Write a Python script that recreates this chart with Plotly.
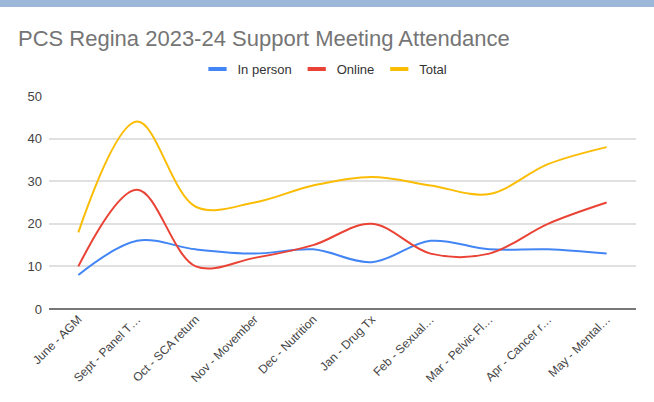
import plotly.graph_objects as go

categories = ["June - AGM", "Sept - Panel T…", "Oct - SCA return", "Nov - Movember",
              "Dec - Nutrition", "Jan - Drug Tx", "Feb - Sexual…", "Mar - Pelvic Fl…",
              "Apr - Cancer r…", "May - Mental…"]
in_person = [8, 16, 14, 13, 14, 11, 16, 14, 14, 13]
online = [10, 28, 10, 12, 15, 20, 13, 13, 20, 25]
total = [18, 44, 24, 25, 29, 31, 29, 27, 34, 38]
y_ticks = [0, 10, 20, 30, 40, 50]

W, H = 654, 402
L, R, T, B = 49, 18, 96, 93
pw, ph = W - L - R, H - T - B

def px(x):
    return (x - L) / pw

def py(y):
    return (H - B - y) / ph

fig = go.Figure()
series = [("In person", in_person, "#4285f4"),
          ("Online", online, "#ea4335"),
          ("Total", total, "#fbbc04")]
for name, vals, col in series:
    fig.add_trace(go.Scatter(
        x=categories, y=vals, name=name, mode="lines", showlegend=False,
        line=dict(color=col, width=2, shape="spline", smoothing=1.0),
    ))
for name, vals, col in series:
    fig.add_trace(go.Scatter(
        x=[None], y=[None], name=name, mode="markers", showlegend=True,
        marker=dict(symbol="line-ew", size=13, line=dict(color=col, width=4)),
    ))

fig.update_layout(
    width=W, height=H,
    margin=dict(l=L, r=R, t=T, b=B, autoexpand=False),
    paper_bgcolor="white", plot_bgcolor="white",
    font=dict(family="Liberation Sans, Arial, sans-serif", color="#444444", size=12),
    title=dict(text="PCS Regina 2023-24 Support Meeting Attendance",
               x=18 / W, xanchor="left", y=1 - 38 / H, yanchor="middle",
               font=dict(size=22, color="#757575")),
    legend=dict(orientation="h", x=px(325), xanchor="center", y=py(69), yanchor="middle",
                font=dict(size=13, color="#333333"), itemwidth=30, tracegroupgap=0,
                bgcolor="rgba(0,0,0,0)"),
    showlegend=True,
    xaxis=dict(type="category", tickangle=-45, showgrid=False, zeroline=False,
               showline=False, ticks="", tickfont=dict(size=12, color="#444444"),
               range=[-0.5, len(categories) - 0.5], automargin=False),
    yaxis=dict(range=[0, 50], tickvals=y_ticks, showgrid=True, gridcolor="#e0e0e0",
               gridwidth=1.5, zeroline=True, zerolinecolor="#777777", zerolinewidth=2,
               ticks="", showline=False, tickfont=dict(size=13, color="#444444"),
               ticklabelstandoff=6, automargin=False),
    shapes=[dict(type="rect", xref="paper", yref="paper",
                 x0=px(0), x1=px(W), y0=py(7), y1=py(0),
                 fillcolor="#9cb7d8", line=dict(width=0), layer="above")],
)

fig.write_html("out.html", post_script="document.body.style.margin='0';",
               config={"displayModeBar": False})
